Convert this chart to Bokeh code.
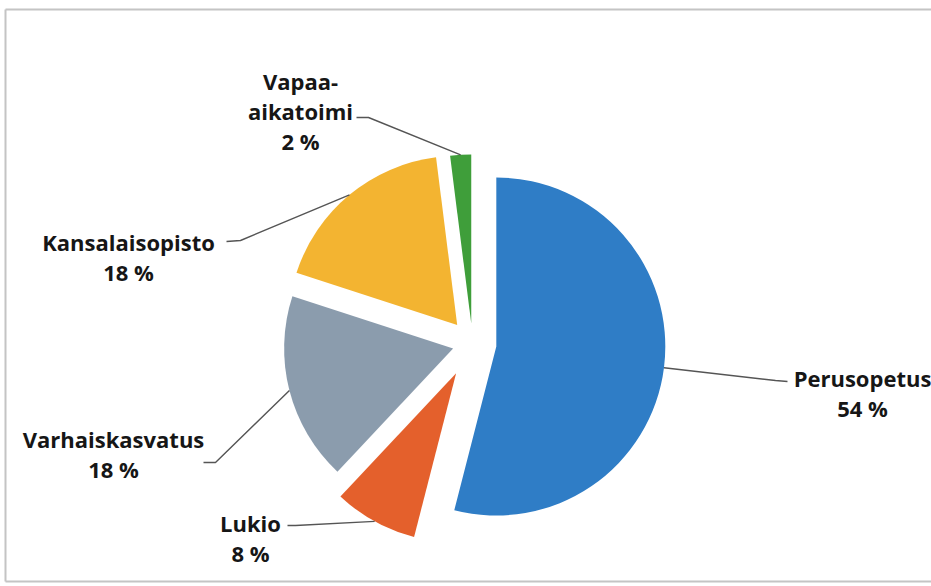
import numpy as np
from bokeh.plotting import figure
from bokeh.models import Range1d, ColumnDataSource
from bokeh.embed import file_html
from bokeh.resources import INLINE
from bokeh.core.properties import value

# ---- data ----
categories = ["Perusopetus", "Lukio", "Varhaiskasvatus", "Kansalaisopisto", "Vapaa-aikatoimi"]
shares = [54, 8, 18, 18, 2]

# ---- style / layout ----
colors = ["#2f7dc6", "#e4602c", "#8b9cad", "#f3b431", "#3f9e3a"]
explode = [24, 34, 20, 24, 20]
label_pos = [(862, 392), (250, 537), (113, 453), (128, 256), (300, 110)]
elbows = [(775, 380), (295, 525), (215, 462), (240, 240), (368, 117)]
ends = [(787, 381), (287, 525), (203, 462), (226, 241), (356, 117)]

W, H = 931, 586


def Y(py):
    return H - py


CX, CY = 472, Y(343)
R = 169

p = figure(width=W, height=H, output_backend="svg", toolbar_location=None,
           x_range=Range1d(0, W), y_range=Range1d(0, H), min_border=0)
p.axis.visible = False
p.grid.visible = False
p.outline_line_color = None
p.background_fill_color = "white"

total = float(sum(shares))
cum = np.concatenate([[0], np.cumsum(shares)]) / total * 360.0
th1 = cum[:-1]
th2 = cum[1:]
mid = (th1 + th2) / 2
ex = np.array(explode, dtype=float)
vx = CX + ex * np.sin(np.radians(mid))
vy = CY + ex * np.cos(np.radians(mid))

src = ColumnDataSource(dict(x=vx, y=vy, start=90 - th2, end=90 - th1, color=colors, cat=categories))
p.wedge(x="x", y="y", radius=R, start_angle="start", end_angle="end",
        start_angle_units="deg", end_angle_units="deg",
        fill_color="color", line_color=None, source=src)

# leader lines
xs, ys = [], []
for i in range(len(categories)):
    ax = vx[i] + R * np.sin(np.radians(mid[i]))
    ay = vy[i] + R * np.cos(np.radians(mid[i]))
    xs.append([ax, elbows[i][0], ends[i][0]])
    ys.append([ay, Y(elbows[i][1]), Y(ends[i][1])])
p.multi_line(xs, ys, line_color="#555555", line_width=1.4)

labels = [f"{c.replace('-', '-' + chr(10))}\n{v} %" for c, v in zip(categories, shares)]
p.text(x=[lp[0] for lp in label_pos], y=[Y(lp[1]) for lp in label_pos], text=labels,
       text_align="center", text_baseline="middle", text_font=value("Open Sans"),
       text_font_style="bold", text_font_size="22px", text_line_height=1.0,
       text_color="#161616")

# chart frame (top, left, bottom)
p.multi_line([[5, 5], [5, 931], [5, 931]],
             [[Y(9), Y(581)], [Y(9), Y(9)], [Y(581), Y(581)]],
             line_color="#c4c4c4", line_width=2)

open("out.html", "w").write(file_html(p, INLINE))
